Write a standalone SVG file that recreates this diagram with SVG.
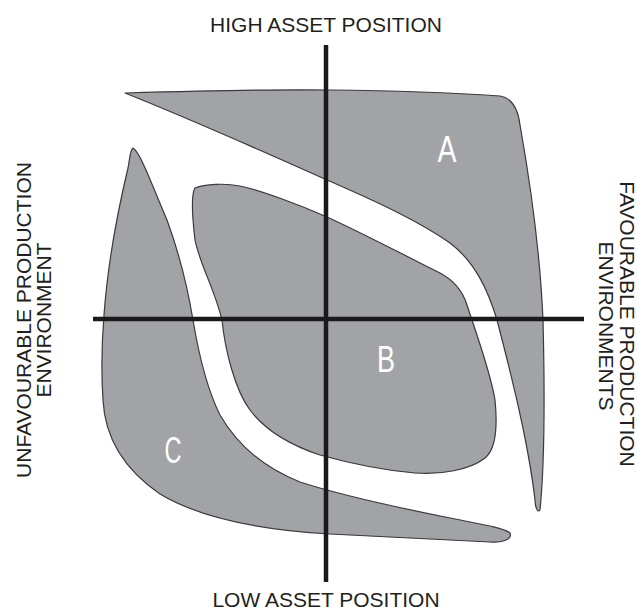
<svg xmlns="http://www.w3.org/2000/svg" width="639" height="613" viewBox="0 0 639 613">
<style>
.blob{fill:#a2a3a7;stroke:#3a3a3a;stroke-width:1.2;stroke-linejoin:round}
.axis{stroke:#1a1a1a;stroke-width:4.5;fill:none}
.lbl{font-family:"Liberation Sans",Arial,sans-serif;font-size:21px;fill:#231f20;text-anchor:middle}
.zone{font-family:"Liberation Sans",Arial,sans-serif;font-size:36px;fill:#ffffff;text-anchor:middle}
</style>
<rect width="639" height="613" fill="#ffffff"/>
<g id="regionA">
<path class="blob" d="M125,93 C200,91 280,89 330,90 C420,91 470,94 500,96 C512,98 518,108 520,125 C528,170 540,250 543,320 C545,400 544,470 540,510 C537,514 535,505 535,500 C528,440 510,370 497,320 C488,290 475,262 450,243 C420,222 380,203 327,180 C260,150 180,115 125,93 Z"/>
<text class="zone" x="447" y="162" textLength="19" lengthAdjust="spacingAndGlyphs">A</text>
</g>
<g id="regionB">
<path class="blob" d="M195,188 C205,184 225,183 240,186 C260,190 300,205 327,217 C360,232 410,258 440,273 C455,281 463,292 467,305 C475,330 490,370 495,400 C498,430 495,450 485,458 C470,470 440,475 415,473 C380,470 345,462 320,455 C290,445 265,430 250,410 C235,390 225,350 222,320 C215,290 200,265 195,240 C192,215 191,195 195,188 Z"/>
<text class="zone" x="386" y="372" textLength="18" lengthAdjust="spacingAndGlyphs">B</text>
</g>
<g id="regionC">
<path class="blob" d="M133,148 C140,152 150,180 167,220 C178,250 188,290 193,320 C198,350 205,385 220,415 C240,450 270,470 300,482 C340,495 400,508 450,518 C480,524 505,528 510,533 C513,540 500,543 490,542 C450,540 400,538 330,534 C260,530 200,518 160,494 C125,470 105,440 103,400 C101,370 102,340 104,315 C108,260 118,210 128,168 C130,158 130,150 133,148 Z"/>
<text class="zone" x="173" y="463" textLength="17" lengthAdjust="spacingAndGlyphs">C</text>
</g>
<g id="connectors">
<line class="axis" x1="326" y1="45" x2="326" y2="582"/>
<line class="axis" x1="93" y1="319" x2="584" y2="319"/>
</g>
<g id="labels">
<text class="lbl" x="326" y="32">HIGH ASSET POSITION</text>
<text class="lbl" x="326" y="607">LOW ASSET POSITION</text>
<text class="lbl" transform="translate(31,320) rotate(-90)">UNFAVOURABLE PRODUCTION</text>
<text class="lbl" transform="translate(51,320) rotate(-90)">ENVIRONMENT</text>
<text class="lbl" transform="translate(620,324) rotate(90)">FAVOURABLE PRODUCTION</text>
<text class="lbl" transform="translate(599,326) rotate(90)">ENVIRONMENTS</text>
</g>
</svg>
